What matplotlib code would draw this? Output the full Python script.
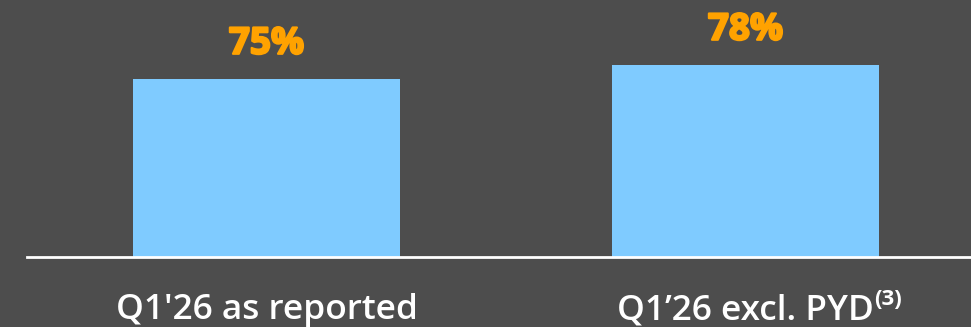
import matplotlib
matplotlib.use('Agg')
import matplotlib.pyplot as plt
import matplotlib.patheffects as pe

# data
categories = ["Q1'26 as reported", "Q1’26 excl. PYD"]
footnotes = ["", "(3)"]
values = [75, 78]
labels = ["75%", "78%"]

bg = '#4d4d4d'
bar_color = '#7fcbff'
orange = '#ffa200'

plt.rcParams['font.family'] = ['Open Sans', 'DejaVu Sans']

fig = plt.figure(figsize=(9.71, 3.27), dpi=100, facecolor=bg)
ax = fig.add_axes([27 / 971, 70 / 327, 944 / 971, 257 / 327])
ax.set_facecolor(bg)

x = list(range(len(values)))
ax.bar(x, values, width=0.557, color=bar_color, bottom=0)
ax.set_xlim(-0.5, 1.471)
ax.set_ylim(37, 92)

for xi, v, lab in zip(x, values, labels):
    ax.annotate(lab, (xi, v), xytext=(0, 12), textcoords='offset points',
                ha='center', va='bottom', color=orange, fontsize=26.5, fontweight='bold',
                path_effects=[pe.withStroke(linewidth=1.6, foreground=orange)])

for s in ['top', 'right', 'left']:
    ax.spines[s].set_visible(False)
ax.spines['bottom'].set_color('white')
ax.spines['bottom'].set_linewidth(2)
ax.set_yticks([])
ax.set_xticks(x)
ax.set_xticklabels(categories, color='white', fontsize=25.4, fontweight='semibold')
ax.tick_params(axis='x', length=0, pad=26)

fig.canvas.draw()
for tl, fn in zip(ax.get_xticklabels(), footnotes):
    if fn:
        ax.annotate(fn, xy=(1, 1), xycoords=tl, xytext=(0.5, 3), textcoords='offset points',
                    ha='left', va='top', color='white', fontsize=16, fontweight='bold')

fig.savefig('out.png', facecolor=bg)
